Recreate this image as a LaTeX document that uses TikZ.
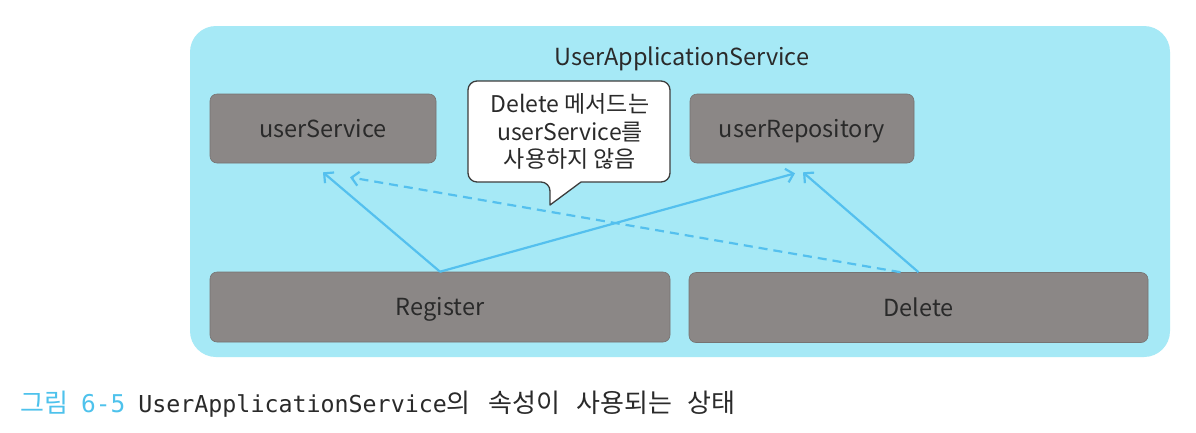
\documentclass[tikz,border=0pt]{standalone}
\usepackage{fontspec}
\setmainfont{Noto Sans CJK KR}
\newfontfamily\capmono{DejaVu Sans Mono}
\usetikzlibrary{arrows.meta,calc}
\definecolor{bgcyan}{RGB}{166,233,246}
\definecolor{boxgray}{RGB}{139,135,134}
\definecolor{boxedge}{RGB}{118,115,114}
\definecolor{arrowblue}{RGB}{84,192,238}
\definecolor{txtdark}{RGB}{42,42,42}
\definecolor{capcyan}{RGB}{78,194,236}
\definecolor{calloutedge}{RGB}{60,60,60}
\newcommand{\capgap}[1]{\hspace*{#1pt}}
\begin{document}
\begin{tikzpicture}[x=1pt,y=-1pt,
  member/.style={draw=boxedge,line width=0.6pt,fill=boxgray,rounded corners=7pt,
    text=txtdark,font=\fontsize{23.5}{26}\selectfont,inner sep=0pt,
    text height=17pt,text depth=0pt},
  dep/.style={draw=arrowblue,line width=2.2pt,-{Straight Barb[length=7pt,width=14pt,line width=2.2pt]}},
  depdash/.style={dep,dash pattern=on 9pt off 6pt}
  ]
\useasboundingbox (0,0) rectangle (1196,432);
\fill[white] (0,0) rectangle (1196,432);
% container
\node[fill=bgcyan,rounded corners=26pt,minimum width=980pt,minimum height=331pt,inner sep=0pt] (app) at (680,191.5) {};
\node[text=txtdark,font=\fontsize{23.5}{26}\selectfont] (title) at (682,59) {UserApplicationService};
% members
\node[member,minimum width=226pt,minimum height=69pt] (us) at (323,128.5) {userService};
\node[member,minimum width=224pt,minimum height=69pt] (ur) at (802,128.5) {userRepository};
\node[member,minimum width=460pt,minimum height=70pt] (reg) at (440,307) {Register};
\node[member,minimum width=459pt,minimum height=70pt] (del) at (918.5,307.5) {Delete};
% callout
\draw[fill=white,draw=calloutedge,line width=1.3pt,line join=round]
  (550,182) -- (550,205) -- (581,182) [rounded corners=9pt] -- (670,182) -- (670,81) -- (468,81) -- (468,182) -- cycle;
\node[align=center,text=txtdark,font=\fontsize{23}{27.5}\selectfont] (note) at (570,131.5)
  {Delete 메서드는\\userService를\\사용하지 않음};
% dependencies
\draw[dep] (reg.north) -- ($(us.south)+(0,9)$);
\draw[dep] (reg.north) -- ($(ur.south)+(-7,10)$);
\draw[dep] (del.north) -- ($(ur.south)+(1,9)$);
\draw[depdash] ($(del.north)+(-18,0)$) -- ($(us.south)+(27,14)$);
% caption
\node[anchor=west,inner sep=0pt,text=txtdark,font=\fontsize{26}{30}\selectfont] (cap) at (20,404)
  {\textcolor{capcyan}{그림\capgap{13}{\capmono\fontsize{24.5}{28}\selectfont 6-5}}\capgap{13}{\capmono\fontsize{23.3}{28}\selectfont UserApplicationService}의\capgap{18}속성이\capgap{16}사용되는\capgap{15}상태};
\end{tikzpicture}
\end{document}
